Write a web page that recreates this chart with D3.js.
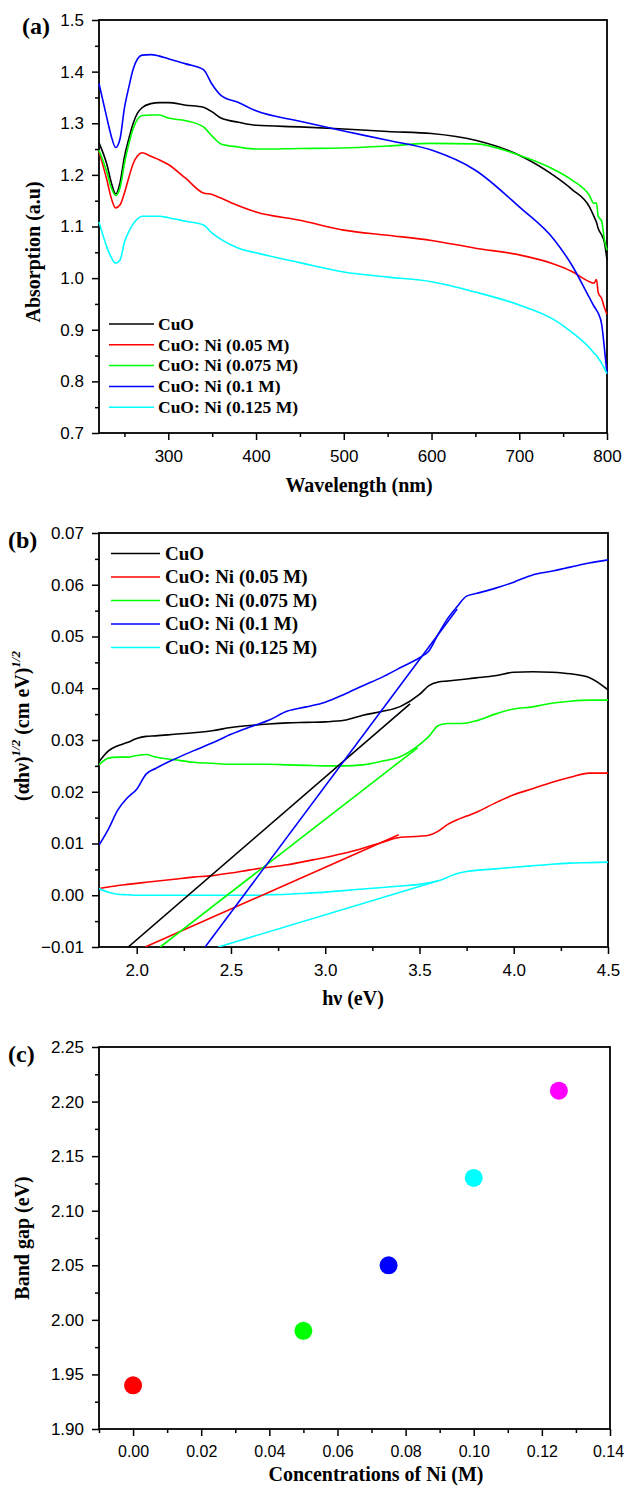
<!DOCTYPE html>
<html>
<head>
<meta charset="utf-8">
<script src="https://cdn.jsdelivr.net/npm/d3@7"></script>
<style>
  body { margin: 0; background: #fff; }
  .tick text { font-family: Arial, "Liberation Sans", sans-serif; font-size: 17px; fill: #000; }
  .ttl { font-family: "Times New Roman", "Liberation Serif", serif; font-weight: bold; fill: #000; }
</style>
</head>
<body>
<svg width="625" height="1487"></svg>
<script>
// ---- data ----
var seriesNames = ["CuO", "CuO: Ni (0.05 M)", "CuO: Ni (0.075 M)", "CuO: Ni (0.1 M)", "CuO: Ni (0.125 M)"];
var seriesColors = ["#000000", "#ff0000", "#00ff00", "#0000ff", "#00ffff"];

// (a) absorption vs wavelength
var wavelength = [221, 230, 235, 240, 245, 250, 255, 260, 265, 270, 280, 290, 300, 320, 340, 350, 360, 380, 400,
                  450, 500, 550, 600, 650, 700, 740, 760, 780, 785, 788, 790, 794, 797, 800];
var absCuO   = [1.262, 1.220, 1.185, 1.163, 1.185, 1.235, 1.270, 1.300, 1.320, 1.330, 1.338, 1.340, 1.340, 1.335, 1.331, 1.322, 1.310, 1.302, 1.296,
                1.293, 1.289, 1.284, 1.280, 1.267, 1.238, 1.198, 1.172, 1.138, 1.120, 1.108, 1.096, 1.083, 1.070, 1.035];
var absNi005 = [1.245, 1.190, 1.155, 1.136, 1.142, 1.165, 1.195, 1.222, 1.237, 1.243, 1.236, 1.229, 1.220, 1.193, 1.165, 1.162, 1.155, 1.140, 1.128,
                1.112, 1.093, 1.083, 1.073, 1.058, 1.045, 1.027, 1.013, 0.993, 0.990, 0.997, 0.972, 0.960, 0.943, 0.930];
var absNi0075 = [1.248, 1.205, 1.175, 1.160, 1.175, 1.222, 1.260, 1.290, 1.308, 1.315, 1.316, 1.316, 1.310, 1.305, 1.293, 1.275, 1.260, 1.254, 1.250,
                 1.251, 1.252, 1.256, 1.261, 1.260, 1.238, 1.210, 1.190, 1.160, 1.145, 1.146, 1.120, 1.110, 1.075, 1.054];
var absNi01  = [1.377, 1.310, 1.275, 1.253, 1.270, 1.330, 1.370, 1.405, 1.425, 1.432, 1.433, 1.430, 1.425, 1.415, 1.404, 1.375, 1.354, 1.340, 1.324,
                1.304, 1.285, 1.267, 1.248, 1.209, 1.138, 1.074, 1.025, 0.962, 0.946, 0.938, 0.932, 0.910, 0.865, 0.815];
var absNi0125 = [1.109, 1.060, 1.040, 1.029, 1.035, 1.070, 1.090, 1.105, 1.115, 1.120, 1.120, 1.120, 1.117, 1.110, 1.103, 1.087, 1.075, 1.058, 1.049,
                 1.030, 1.012, 1.002, 0.993, 0.973, 0.948, 0.919, 0.895, 0.865, 0.855, 0.850, 0.845, 0.835, 0.825, 0.815];

// (b) Tauc plot
var energy = [1.8, 1.85, 1.9, 1.95, 2.0, 2.05, 2.1, 2.2, 2.3, 2.4, 2.5, 2.6, 2.7, 2.8, 2.9, 3.0, 3.1, 3.2, 3.3, 3.4,
              3.5, 3.55, 3.6, 3.65, 3.7, 3.75, 3.8, 3.9, 4.0, 4.1, 4.2, 4.3, 4.4, 4.5];
var taucCuO   = [0.0258, 0.0279, 0.0289, 0.0295, 0.0303, 0.0307, 0.0308, 0.0311, 0.0314, 0.0318, 0.0324, 0.0328, 0.0331, 0.0333, 0.0334, 0.0335, 0.0338, 0.0348, 0.0355, 0.0365,
                 0.0388, 0.0405, 0.0412, 0.0414, 0.0416, 0.0418, 0.0420, 0.0424, 0.0431, 0.0432, 0.0431, 0.0428, 0.0421, 0.0397];
var taucNi005 = [0.0013, 0.0016, 0.0019, 0.0021, 0.0023, 0.0025, 0.0027, 0.0031, 0.0035, 0.0038, 0.0043, 0.0049, 0.0054, 0.0059, 0.0066, 0.0073, 0.0081, 0.0091, 0.0102, 0.0112,
                 0.0114, 0.0116, 0.0124, 0.0137, 0.0146, 0.0153, 0.0160, 0.0178, 0.0194, 0.0206, 0.0218, 0.0228, 0.0236, 0.0236];
var taucNi0075 = [0.0252, 0.0265, 0.0267, 0.0267, 0.0270, 0.0272, 0.0267, 0.0262, 0.0257, 0.0255, 0.0253, 0.0253, 0.0253, 0.0252, 0.0251, 0.0250, 0.0250, 0.0252, 0.0259, 0.0268,
                  0.0291, 0.0307, 0.0328, 0.0332, 0.0332, 0.0333, 0.0337, 0.0350, 0.0360, 0.0364, 0.0371, 0.0375, 0.0377, 0.0377];
var taucNi01  = [0.0097, 0.0128, 0.0165, 0.0188, 0.0205, 0.0234, 0.0245, 0.0263, 0.0279, 0.0294, 0.0311, 0.0325, 0.0338, 0.0356, 0.0364, 0.0373, 0.0388, 0.0405, 0.0421, 0.0440,
                 0.0459, 0.0472, 0.0505, 0.0535, 0.0558, 0.0578, 0.0583, 0.0593, 0.0605, 0.0619, 0.0626, 0.0634, 0.0642, 0.0648];
var taucNi0125 = [0.0013, 0.0006, 0.0002, 0.0001, 0.0000, 0.0000, 0.0000, 0.0000, 0.0000, 0.0000, 0.0000, 0.0000, 0.0001, 0.0002, 0.0004, 0.0006, 0.0009, 0.0012, 0.0015, 0.0018,
                  0.0021, 0.0024, 0.0028, 0.0035, 0.0042, 0.0046, 0.0048, 0.0051, 0.0054, 0.0057, 0.0060, 0.0062, 0.0063, 0.0064];
// linear extrapolation lines [start, end] as [hv, value]
var fitLines = [
  [[1.955, -0.01], [3.45, 0.0370]],
  [[2.045, -0.01], [3.39, 0.0117]],
  [[2.125, -0.01], [3.49, 0.0285]],
  [[2.363, -0.01], [3.70, 0.0553]],
  [[2.433, -0.01], [3.60, 0.0028]]
];

// (c) band gap
var niConc = [0, 0.05, 0.075, 0.1, 0.125];
var bandGap = [1.94, 1.99, 2.05, 2.13, 2.21];
var gapColors = ["#ff0000", "#00ff00", "#0000ff", "#00ffff", "#ff00ff"];

var absSeries = [absCuO, absNi005, absNi0075, absNi01, absNi0125];
var taucSeries = [taucCuO, taucNi005, taucNi0075, taucNi01, taucNi0125];

var svg = d3.select("svg");

// draws frame + axes with major/minor ticks
function drawFrame(x, y, xMajor, xMinor, yMajor, yMinor, xFmt, yFmt) {
  var g = svg.append("g");
  var x0 = x.range()[0], x1 = x.range()[1], y0 = y.range()[0], y1 = y.range()[1];

  g.append("g").attr("transform", "translate(0," + y0 + ")")
    .call(d3.axisBottom(x).tickValues(xMinor).tickSize(4).tickFormat(""))
    .call(function(a){ a.select(".domain").remove(); });
  g.append("g").attr("class", "xmajor").attr("transform", "translate(0," + y0 + ")")
    .call(d3.axisBottom(x).tickValues(xMajor).tickSize(7).tickPadding(10).tickFormat(xFmt))
    .call(function(a){ a.select(".domain").remove(); });
  g.append("g").attr("transform", "translate(" + x0 + ",0)")
    .call(d3.axisLeft(y).tickValues(yMinor).tickSize(4).tickFormat(""))
    .call(function(a){ a.select(".domain").remove(); });
  g.append("g").attr("transform", "translate(" + x0 + ",0)")
    .call(d3.axisLeft(y).tickValues(yMajor).tickSize(7).tickPadding(8).tickFormat(yFmt))
    .call(function(a){ a.select(".domain").remove(); });

  g.selectAll(".tick line").attr("stroke", "#000").attr("stroke-width", 1.5);

  g.append("rect")
    .attr("x", x0).attr("y", y1)
    .attr("width", x1 - x0).attr("height", y0 - y1)
    .attr("fill", "none").attr("stroke", "#000").attr("stroke-width", 1.8);
  return g;
}

function drawLegend(x, y, lineLen, gap, rowH, fs) {
  var lg = svg.append("g").attr("transform", "translate(" + x + "," + y + ")");
  seriesNames.forEach(function(name, i) {
    lg.append("line")
      .attr("x1", 0).attr("x2", lineLen)
      .attr("y1", i * rowH).attr("y2", i * rowH)
      .attr("stroke", seriesColors[i]).attr("stroke-width", 1.5);
    lg.append("text")
      .attr("class", "ttl")
      .attr("x", lineLen + gap)
      .attr("y", i * rowH + fs * 0.33)
      .style("font-size", fs + "px")
      .text(name);
  });
}

function rng(a, b, step) {
  var out = [];
  for (var v = a; v <= b + step / 10; v += step) out.push(+v.toFixed(4));
  return out;
}

// ---------- panel (a) ----------
var xA = d3.scaleLinear().domain([221, 800]).range([99, 607]);
var yA = d3.scaleLinear().domain([0.7, 1.5]).range([433, 20]);

drawFrame(xA, yA, [300, 400, 500, 600, 700, 800], rng(250, 750, 100),
          rng(0.7, 1.5, 0.1), rng(0.75, 1.45, 0.1), d3.format("d"), d3.format(".1f"));

var lineA = d3.line()
  .x(function(d, i) { return xA(wavelength[i]); })
  .y(function(d) { return yA(d); })
  .curve(d3.curveMonotoneX);

svg.append("g").selectAll("path")
  .data(absSeries).enter()
  .append("path")
  .attr("d", lineA)
  .attr("fill", "none")
  .attr("stroke", function(d, i) { return seriesColors[i]; })
  .attr("stroke-width", 1.6);

drawLegend(109, 324, 45, 4, 20.8, 17.5);

svg.append("text").attr("class", "ttl").attr("x", 22).attr("y", 34).style("font-size", "24px").text("(a)");
svg.append("text").attr("class", "ttl").attr("x", 359).attr("y", 492)
  .attr("text-anchor", "middle").style("font-size", "20px").text("Wavelength (nm)");
svg.append("text").attr("class", "ttl")
  .attr("transform", "translate(40,252) rotate(-90)")
  .attr("text-anchor", "middle").style("font-size", "20px").text("Absorption (a.u)");

// ---------- panel (b) ----------
var xB = d3.scaleLinear().domain([1.8, 4.5]).range([99, 608]);
var yB = d3.scaleLinear().domain([-0.01, 0.07]).range([947, 533]);

drawFrame(xB, yB, rng(2.0, 4.5, 0.5), rng(2.25, 4.25, 0.5),
          rng(-0.01, 0.07, 0.01), rng(-0.005, 0.065, 0.01), d3.format(".1f"), d3.format(".2f"));

var clipB = svg.append("clipPath").attr("id", "clipB")
  .append("rect").attr("x", 99).attr("y", 533).attr("width", 509).attr("height", 414);

var lineB = d3.line()
  .x(function(d, i) { return xB(energy[i]); })
  .y(function(d) { return yB(d); })
  .curve(d3.curveMonotoneX);

var gB = svg.append("g").attr("clip-path", "url(#clipB)");
gB.selectAll("path.curve")
  .data(taucSeries).enter()
  .append("path")
  .attr("class", "curve")
  .attr("d", lineB)
  .attr("fill", "none")
  .attr("stroke", function(d, i) { return seriesColors[i]; })
  .attr("stroke-width", 1.6);

gB.selectAll("line.fit")
  .data(fitLines).enter()
  .append("line")
  .attr("class", "fit")
  .attr("x1", function(d) { return xB(d[0][0]); })
  .attr("y1", function(d) { return yB(d[0][1]); })
  .attr("x2", function(d) { return xB(d[1][0]); })
  .attr("y2", function(d) { return yB(d[1][1]); })
  .attr("stroke", function(d, i) { return seriesColors[i]; })
  .attr("stroke-width", 1.6);

drawLegend(111, 553.5, 49, 5, 23.5, 19);

svg.append("text").attr("class", "ttl").attr("x", 8).attr("y", 548).style("font-size", "24px").text("(b)");
svg.append("text").attr("class", "ttl").attr("x", 353).attr("y", 1005)
  .attr("text-anchor", "middle").style("font-size", "20px").text("h\u03bd (eV)");

var yTitleB = svg.append("text").attr("class", "ttl")
  .attr("transform", "translate(29,726) rotate(-90)")
  .attr("text-anchor", "middle").style("font-size", "20px");
yTitleB.append("tspan").text("(\u03b1h\u03bd)");
yTitleB.append("tspan").attr("dy", -9).style("font-size", "13px").style("font-style", "italic").text("1/2");
yTitleB.append("tspan").attr("dy", 9).text(" (cm eV)");
yTitleB.append("tspan").attr("dy", -9).style("font-size", "13px").style("font-style", "italic").text("1/2");

// ---------- panel (c) ----------
var xC = d3.scaleLinear().domain([-0.01, 0.14]).range([99, 610]);
var yC = d3.scaleLinear().domain([1.9, 2.25]).range([1429, 1047]);

var frameC = drawFrame(xC, yC, rng(0, 0.14, 0.02), rng(-0.01, 0.13, 0.02),
          rng(1.9, 2.25, 0.05), rng(1.925, 2.225, 0.05), d3.format(".2f"), d3.format(".2f"));
// keep the last x label inside the page
frameC.selectAll(".xmajor .tick text").style("font-size", "16px");
frameC.selectAll(".xmajor .tick:last-of-type text").attr("dx", -2);

svg.append("g").selectAll("circle")
  .data(niConc).enter()
  .append("circle")
  .attr("cx", function(d) { return xC(d); })
  .attr("cy", function(d, i) { return yC(bandGap[i]); })
  .attr("r", 9)
  .attr("fill", function(d, i) { return gapColors[i]; });

svg.append("text").attr("class", "ttl").attr("x", 8).attr("y", 1062).style("font-size", "24px").text("(c)");
svg.append("text").attr("class", "ttl").attr("x", 376).attr("y", 1481)
  .attr("text-anchor", "middle").style("font-size", "20px").text("Concentrations of Ni (M)");
svg.append("text").attr("class", "ttl")
  .attr("transform", "translate(29,1238) rotate(-90)")
  .attr("text-anchor", "middle").style("font-size", "20px").text("Band gap (eV)");
</script>
</body>
</html>
